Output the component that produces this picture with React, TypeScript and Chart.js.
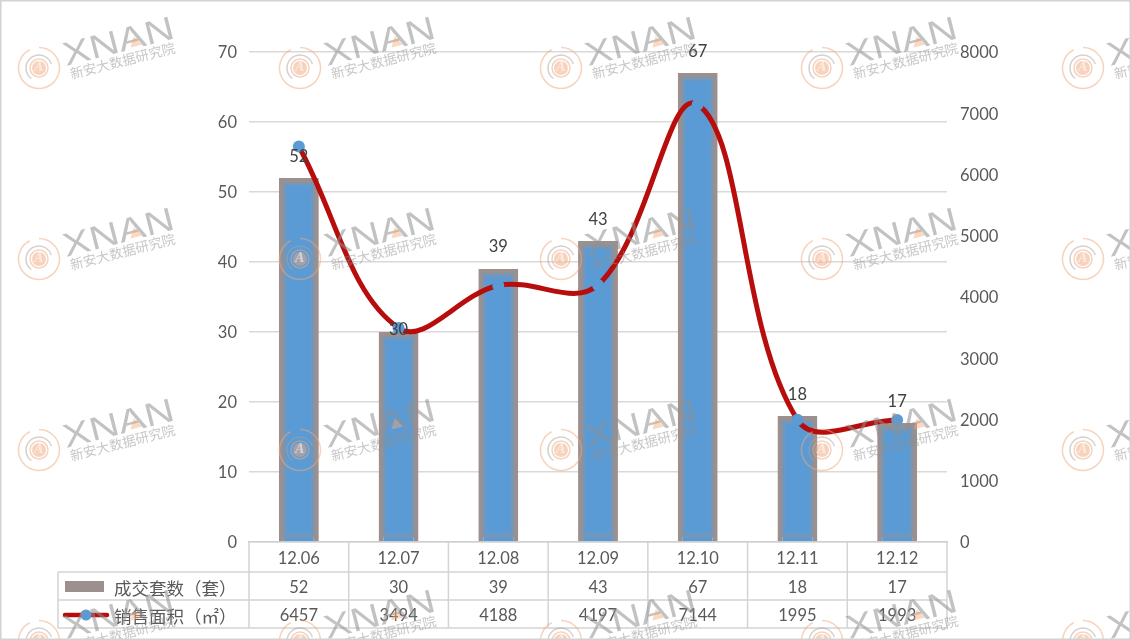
import React, { useEffect, useRef } from "react";
import { Chart, registerables } from "chart.js";

Chart.register(...registerables);

const months = ["12.06", "12.07", "12.08", "12.09", "12.10", "12.11", "12.12"];
const deals = [52, 30, 39, 43, 67, 18, 17];
const areas = [6457, 3494, 4188, 4197, 7144, 1995, 1993];
const dealsName = "成交套数（套）";
const areaName = "销售面积（㎡）";
const wmLatin = "XNAN";
const wmChinese = "新安大数据研究院";

const numFont = '16.5px Lato, "Open Sans", sans-serif';
const cjkFont = '17.5px "Noto Sans CJK TC", sans-serif';
const ink = "#595959";
const gridColor = "#d9d9d9";
const tableColor = "#d4d4d4";
const blue = "#5b9bd5";
const barEdge = "#9b908e";
const red = "#b80d0d";

// Label offset above each bar top, in px (the source chart has hand-moved labels)
const labelLift = [21, 2, 22, 21, 21, 21, 21];

const drawWatermark = (ctx: CanvasRenderingContext2D, cx: number, cy: number) => {
  ctx.save();
  ctx.translate(cx, cy);
  ctx.globalAlpha = 0.5;
  ctx.lineWidth = 1.5;
  ctx.strokeStyle = "#efa77e";
  for (const [s, e] of [[0.1, 1.35], [1.5, 2.1]]) {
    ctx.beginPath();
    ctx.arc(0, 0, 20.5, s * Math.PI, e * Math.PI);
    ctx.stroke();
  }
  ctx.beginPath();
  ctx.arc(0, 0, 13, 0.7 * Math.PI, 1.9 * Math.PI);
  ctx.strokeStyle = "#a9a29c";
  ctx.stroke();
  ctx.beginPath();
  ctx.arc(0, 0, 9, 0, 2 * Math.PI);
  ctx.strokeStyle = "#efa77e";
  ctx.stroke();
  ctx.beginPath();
  ctx.arc(0, 0, 7, 0, 2 * Math.PI);
  ctx.fillStyle = "#efa77e";
  ctx.fill();
  ctx.fillStyle = "#ffffff";
  ctx.font = 'italic bold 12px "DejaVu Serif", serif';
  ctx.textAlign = "center";
  ctx.textBaseline = "middle";
  ctx.fillText("A", 0, 0);
  ctx.restore();

  ctx.save();
  ctx.translate(cx + 27, cy - 2);
  ctx.rotate(-0.25);
  ctx.textAlign = "left";
  ctx.textBaseline = "alphabetic";
  ctx.globalAlpha = 0.55;
  ctx.fillStyle = "#909090";
  ctx.save();
  ctx.scale(1.24, 1);
  ctx.font = '33px "Liberation Sans", sans-serif';
  ctx.fillText(wmLatin, 0, 0);
  ctx.restore();
  ctx.globalAlpha = 0.45;
  ctx.fillStyle = "#f3a878";
  ctx.beginPath();
  ctx.moveTo(67, -2);
  ctx.lineTo(73, -12);
  ctx.lineTo(79, -2);
  ctx.closePath();
  ctx.fill();
  ctx.fillStyle = "#8f8f8f";
  ctx.font = '13.5px "Noto Sans CJK SC", sans-serif';
  ctx.globalAlpha = 0.5;
  ctx.fillText(wmChinese, 2, 14);
  ctx.restore();
};

const sheetPlugin = {
  id: "sheet",
  afterDatasetDraw(chart: any, args: any) {
    // soft blend between the bar edge and its fill
    const meta = args.meta;
    if (meta.type !== "bar") return;
    const { ctx } = chart;
    ctx.save();
    ctx.lineWidth = 2;
    meta.data.forEach((bar: any) => {
      const { x, y, base, width } = bar.getProps(["x", "y", "base", "width"], true);
      const l = x - width / 2;
      const h = base - y;
      ctx.strokeStyle = "#7f95ac";
      ctx.strokeRect(l + 5, y + 5, width - 10, h - 10);
      ctx.strokeStyle = "#6c98c2";
      ctx.strokeRect(l + 7, y + 7, width - 14, h - 14);
    });
    ctx.restore();
  },
  afterDatasetsDraw(chart: any) {
    const { ctx, chartArea, scales } = chart;
    const { left, right, bottom } = chartArea;
    const rowLines = [bottom + 30, bottom + 58, bottom + 86];
    const tableLeft = 58;
    const step = (right - left) / months.length;

    ctx.save();
    // bar value labels
    ctx.font = numFont;
    ctx.fillStyle = "#404040";
    ctx.textAlign = "center";
    ctx.textBaseline = "middle";
    deals.forEach((v, i) => {
      ctx.fillText(String(v), scales.x.getPixelForValue(i), scales.y.getPixelForValue(v) - labelLift[i]);
    });

    // data table
    ctx.lineWidth = 1.5;
    ctx.strokeStyle = tableColor;
    ctx.beginPath();
    rowLines.forEach((y) => {
      ctx.moveTo(tableLeft, y);
      ctx.lineTo(right, y);
    });
    for (let i = 0; i <= months.length; i++) {
      ctx.moveTo(left + step * i, bottom);
      ctx.lineTo(left + step * i, rowLines[2]);
    }
    ctx.moveTo(tableLeft, rowLines[0]);
    ctx.lineTo(tableLeft, rowLines[2]);
    ctx.stroke();

    ctx.fillStyle = ink;
    months.forEach((_, i) => {
      const x = scales.x.getPixelForValue(i);
      ctx.fillText(String(deals[i]), x, bottom + 46);
      ctx.fillText(String(areas[i]), x, bottom + 74);
    });

    // legend keys
    ctx.fillStyle = barEdge;
    ctx.fillRect(65, bottom + 39, 39, 11);
    ctx.strokeStyle = red;
    ctx.lineWidth = 4.5;
    ctx.lineCap = "round";
    ctx.beginPath();
    ctx.moveTo(65, bottom + 73);
    ctx.lineTo(107, bottom + 73);
    ctx.stroke();
    ctx.fillStyle = blue;
    ctx.beginPath();
    ctx.arc(86, bottom + 73, 5.5, 0, 2 * Math.PI);
    ctx.fill();

    ctx.fillStyle = ink;
    ctx.font = cjkFont;
    ctx.textAlign = "left";
    ctx.fillText(dealsName, 114, bottom + 46);
    ctx.fillText(areaName, 114, bottom + 74);
    ctx.restore();
  },
  afterDraw(chart: any) {
    const { ctx, width, height } = chart;
    for (let r = 0; r < 4; r++) {
      for (let c = 0; c < 5; c++) {
        drawWatermark(ctx, 39 + c * 261, 68 + r * 191);
      }
    }
    ctx.save();
    ctx.strokeStyle = "#d2d2d2";
    ctx.lineWidth = 3;
    ctx.strokeRect(0, 0, width, height);
    ctx.restore();
  },
};

const tickFont = { family: 'Lato, "Open Sans", sans-serif', size: 16.5 };

export default function App() {
  const ref = useRef<HTMLCanvasElement>(null);
  useEffect(() => {
    document.body.style.margin = "0";
    document.body.style.background = "#ffffff";
    const chart = new Chart(ref.current!, {
      type: "bar",
      plugins: [sheetPlugin],
      data: {
        labels: months,
        datasets: [
          {
            type: "line",
            label: areaName,
            data: areas,
            yAxisID: "y1",
            order: 1,
            borderColor: red,
            borderWidth: 5,
            tension: 0.38,
            borderCapStyle: "round",
            pointRadius: 6,
            pointHoverRadius: 6,
            pointBorderWidth: 0,
            pointBackgroundColor: blue,
            clip: false,
          } as any,
          {
            type: "bar",
            label: dealsName,
            data: deals,
            yAxisID: "y",
            order: 2,
            backgroundColor: blue,
            borderColor: barEdge,
            borderWidth: 5,
            barPercentage: 0.4,
            categoryPercentage: 1,
          } as any,
        ],
      },
      options: {
        animation: false,
        responsive: false,
        devicePixelRatio: 1,
        layout: { padding: { top: 52, right: 0, bottom: 0, left: 0 } },
        plugins: { legend: { display: false }, tooltip: { enabled: false }, title: { display: false } },
        elements: { line: { capBezierPoints: false } },
        scales: {
          x: {
            offset: true,
            grid: { display: false, drawTicks: false },
            border: { display: true, color: "#cfcfcf", width: 1.5 },
            ticks: { color: ink, font: tickFont, padding: 7, maxRotation: 0 },
            afterFit(scale: any) {
              scale.height = 98;
            },
          },
          y: {
            position: "left",
            min: 0,
            max: 70,
            grid: { color: gridColor, lineWidth: 1.5, drawTicks: false },
            border: { display: false },
            ticks: { stepSize: 10, color: ink, font: tickFont, padding: 12, labelOffset: 1 },
            afterFit(scale: any) {
              scale.width = 249;
            },
          },
          y1: {
            position: "right",
            min: 0,
            max: 8000,
            grid: { display: false, drawTicks: false },
            border: { display: false },
            ticks: { stepSize: 1000, color: ink, font: tickFont, padding: 13, labelOffset: 1, callback: (v: any) => String(v) },
            afterFit(scale: any) {
              scale.width = 184;
            },
          },
        },
      },
    });
    return () => chart.destroy();
  }, []);
  return <canvas ref={ref} width={1131} height={640} style={{ display: "block" }} />;
}
